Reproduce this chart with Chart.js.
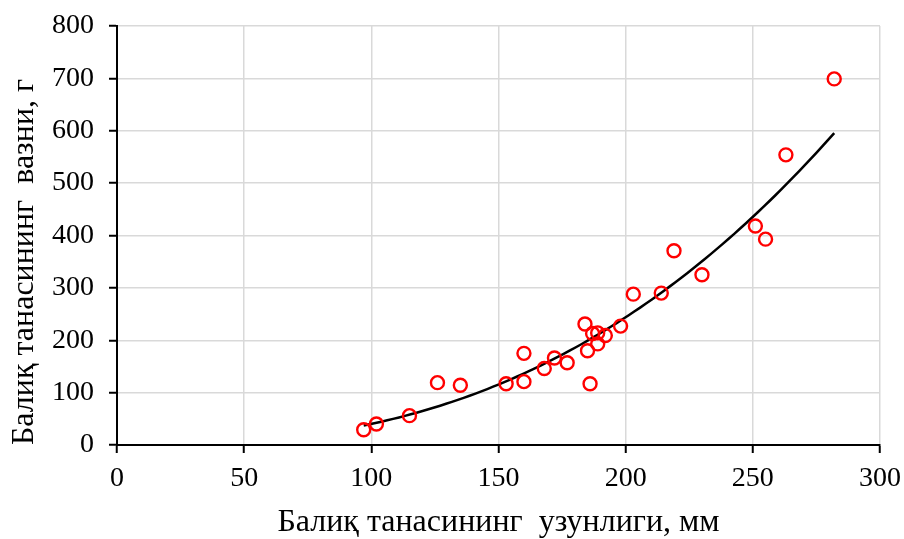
<!DOCTYPE html>
<html>
<head>
<meta charset="utf-8">
<script src="https://cdn.jsdelivr.net/npm/chart.js@4.4.1/dist/chart.umd.min.js"></script>
<style>
  html, body { margin: 0; padding: 0; background: #ffffff; }
  #wrap { width: 904px; height: 539px; }
</style>
</head>
<body>
<div id="wrap"><canvas id="c" width="904" height="539"></canvas></div>
<script>
// Fish body length (mm) and weight (g) measurements
const lengthsMm = [97, 102, 115, 126, 135, 153, 160, 160, 168, 172, 177, 184, 185, 186, 187, 189, 189, 192, 198, 203, 214, 219, 230, 251, 255, 263, 282];
const weightsG  = [29, 40, 56, 119, 114, 117, 175, 121, 146, 166, 157, 231, 180, 117, 213, 193, 214, 209, 227, 288, 290, 371, 325, 418, 393, 554, 699];

const xTicks = [0, 50, 100, 150, 200, 250, 300];
const yTicks = [0, 100, 200, 300, 400, 500, 600, 700, 800];

const xTitle = 'Балиқ танасининг  узунлиги, мм';
const yTitle = 'Балиқ танасининг  вазни, г';

// Power trend line y = a * x^b, least squares on log-log values
function powerFit(xs, ys) {
  const n = xs.length;
  let sx = 0, sy = 0, sxx = 0, sxy = 0;
  for (let i = 0; i < n; i++) {
    const lx = Math.log(xs[i]), ly = Math.log(ys[i]);
    sx += lx; sy += ly; sxx += lx * lx; sxy += lx * ly;
  }
  const b = (n * sxy - sx * sy) / (n * sxx - sx * sx);
  const a = Math.exp((sy - b * sx) / n);
  return { a, b };
}
const fit = powerFit(lengthsMm, weightsG);
const xMin = Math.min(...lengthsMm), xMax = Math.max(...lengthsMm);
const trend = [];
for (let i = 0; i <= 80; i++) {
  const x = xMin + (xMax - xMin) * i / 80;
  trend.push({ x, y: fit.a * Math.pow(x, fit.b) });
}

const points = lengthsMm.map((x, i) => ({ x, y: weightsG[i] }));

const serif = "'Liberation Serif', 'Times New Roman', serif";

new Chart(document.getElementById('c'), {
  type: 'scatter',
  data: {
    datasets: [
      {
        label: 'trend',
        data: trend,
        showLine: true,
        borderColor: '#000000',
        borderWidth: 2.5,
        pointRadius: 0,
        fill: false,
        tension: 0,
        order: 2
      },
      {
        label: 'data',
        data: points,
        pointStyle: 'circle',
        pointRadius: 6.5,
        pointBorderWidth: 2.4,
        pointBorderColor: '#ff0000',
        pointBackgroundColor: 'rgba(0,0,0,0)',
        order: 1
      }
    ]
  },
  options: {
    responsive: false,
    animation: false,
    devicePixelRatio: 1,
    layout: { padding: { left: 0, top: 26, right: 24, bottom: 0 } },
    plugins: { legend: { display: false }, tooltip: { enabled: false } },
    scales: {
      x: {
        type: 'linear',
        min: 0, max: 300,
        afterBuildTicks: s => { s.ticks = xTicks.map(v => ({ value: v })); },
        afterFit: s => { s.height = 94; s.paddingLeft = 0; s.paddingRight = 0; },
        border: { color: '#000000', width: 2 },
        grid: { color: '#d9d9d9', lineWidth: 1.5, tickColor: '#000000', tickWidth: 2, tickLength: 8 },
        ticks: { color: '#000000', font: { family: serif, size: 28 }, padding: 9, maxRotation: 0 },
        title: { display: true, text: xTitle, color: '#000000', font: { family: serif, size: 32 }, padding: { top: 8, bottom: -3 } }
      },
      y: {
        type: 'linear',
        min: 0, max: 800,
        afterBuildTicks: s => { s.ticks = yTicks.map(v => ({ value: v })); },
        afterFit: s => { s.width = 117; s.paddingTop = 0; s.paddingBottom = 0; },
        border: { color: '#000000', width: 2 },
        grid: { color: '#d9d9d9', lineWidth: 1.5, tickColor: '#000000', tickWidth: 2, tickLength: 8 },
        ticks: { color: '#000000', font: { family: serif, size: 28 }, padding: 15 },
        title: { display: true, align: 'start', text: yTitle, color: '#000000', font: { family: serif, size: 32 }, padding: { top: 5, bottom: 4 } }
      }
    }
  }
});
</script>
</body>
</html>
